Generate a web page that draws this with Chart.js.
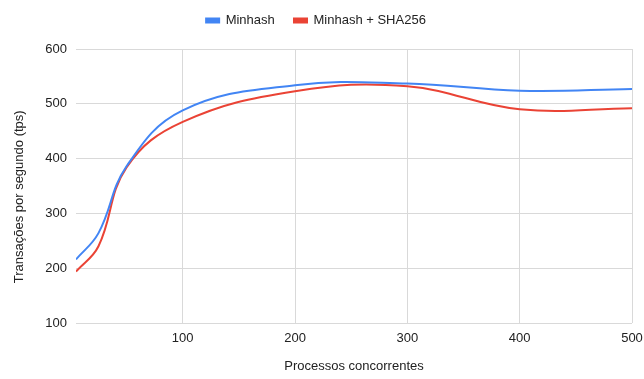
<!DOCTYPE html>
<html>
<head>
<meta charset="utf-8">
<script src="https://cdn.jsdelivr.net/npm/chart.js@4.4.1/dist/chart.umd.min.js"></script>
<style>
  html, body { margin: 0; padding: 0; background: #fff; }
  #wrap { width: 644px; height: 379px; position: relative; }
</style>
</head>
<body>
<div id="wrap"><canvas id="chart"></canvas></div>
<script>
// processos concorrentes
const processos = [5, 25, 50, 100, 200, 300, 400, 500];
const minhash = [216, 264, 386, 488, 534, 537, 524, 527];
const minhashSha = [194, 240, 384, 467, 523, 532, 490, 492];
const yTicks = [100, 200, 300, 400, 500, 600];
const xTicks = [100, 200, 300, 400, 500];

const font = 'Arial, "Liberation Sans", sans-serif';

const toPoints = (vals) => vals.map((v, i) => ({ x: processos[i], y: v }));

// fix the legend height so the plot starts where the original does
const legendHeight = {
    id: 'legendHeight',
    beforeInit(chart) {
        const origFit = chart.legend.fit;
        chart.legend.fit = function () {
            origFit.bind(chart.legend)();
            this.height = 47;
        };
    }
};

let ctx = document.getElementById('chart');

const chart = new Chart(ctx, {
    type: 'line',
    data: {
        datasets: [{
            label: 'Minhash',
            data: toPoints(minhash),
            borderColor: '#4285F4',
            backgroundColor: '#4285F4',
            borderWidth: 2,
            pointRadius: 0,
            tension: 0.4
        }, {
            label: 'Minhash + SHA256',
            data: toPoints(minhashSha),
            borderColor: '#EA4335',
            backgroundColor: '#EA4335',
            borderWidth: 2,
            pointRadius: 0,
            tension: 0.4
        }]
    },
    options: {
        responsive: true,
        maintainAspectRatio: false,
        animation: false,
        layout: { padding: { left: 0, right: 12, top: 2, bottom: 0 } },
        plugins: {
            legend: {
                position: 'top',
                labels: {
                    boxWidth: 13,
                    boxHeight: 4,
                    padding: 12,
                    color: '#222',
                    font: { family: font, size: 13 },
                    generateLabels: (chart) => {
                        const items = Chart.defaults.plugins.legend.labels.generateLabels(chart);
                        items[0].text += '  ';
                        return items;
                    }
                }
            },
            tooltip: { enabled: false }
        },
        scales: {
            x: {
                type: 'linear',
                min: processos[0],
                max: 500,
                afterBuildTicks: (scale) => {
                    scale.ticks = xTicks.map(v => ({ value: v }));
                },
                afterFit: (scale) => {
                    scale.height = 56;
                    scale.paddingLeft = 0;
                    scale.paddingRight = 0;
                },
                grid: { color: '#d9d9d9', drawTicks: false },
                border: { display: false },
                ticks: {
                    color: '#222',
                    padding: 8,
                    maxRotation: 0,
                    font: { family: font, size: 13 }
                },
                title: {
                    display: true,
                    text: 'Processos concorrentes',
                    color: '#222',
                    padding: { top: 0, bottom: 5 },
                    font: { family: font, size: 13 }
                }
            },
            y: {
                min: 100,
                max: 600,
                afterBuildTicks: (scale) => {
                    scale.ticks = yTicks.map(v => ({ value: v }));
                },
                afterFit: (scale) => { scale.width = 76; },
                grid: { color: '#d9d9d9', drawTicks: false },
                border: { display: false },
                ticks: {
                    color: '#222',
                    padding: 9,
                    font: { family: font, size: 13 }
                },
                title: {
                    display: true,
                    text: 'Transações por segundo (tps)      ',
                    color: '#222',
                    padding: { top: 12, bottom: 0 },
                    font: { family: font, size: 13 }
                }
            }
        }
    },
    plugins: [legendHeight]
});
</script>
</body>
</html>
